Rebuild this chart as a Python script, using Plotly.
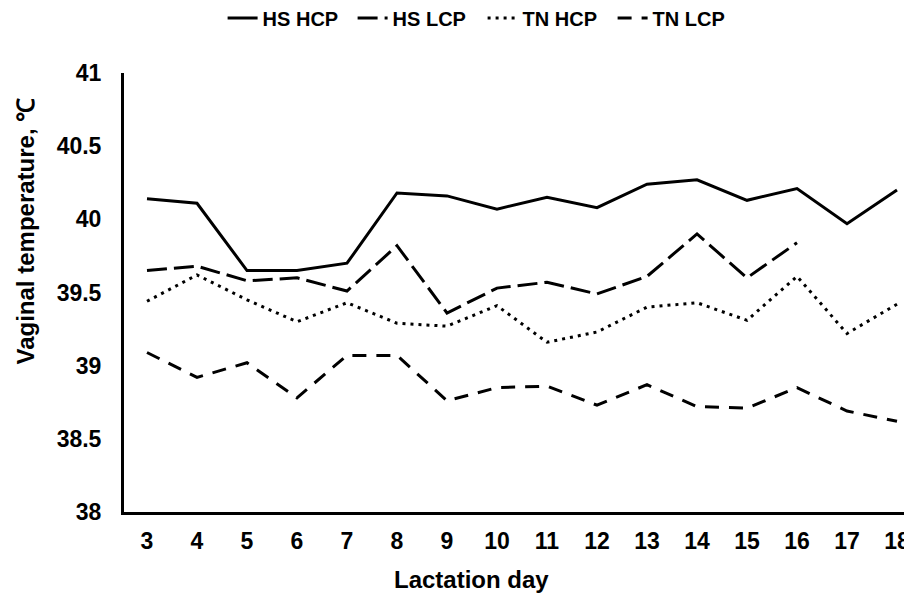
import plotly.graph_objects as go

days = list(range(3, 19))
hs_hcp = [40.14, 40.11, 39.65, 39.65, 39.70, 40.18, 40.16, 40.07, 40.15, 40.08, 40.24, 40.27, 40.13, 40.21, 39.97, 40.20]
hs_lcp = [39.65, 39.68, 39.58, 39.60, 39.51, 39.82, 39.36, 39.53, 39.57, 39.49, 39.61, 39.90, 39.60, 39.84, None, None]
tn_hcp = [39.44, 39.62, 39.45, 39.30, 39.43, 39.29, 39.27, 39.41, 39.16, 39.23, 39.40, 39.43, 39.31, 39.61, 39.22, 39.42]
tn_lcp = [39.09, 38.92, 39.02, 38.78, 39.07, 39.07, 38.76, 38.85, 38.86, 38.73, 38.87, 38.72, 38.71, 38.85, 38.69, 38.62]

series_names = ["HS HCP", "HS LCP", "TN HCP", "TN LCP"]
series_values = [hs_hcp, hs_lcp, tn_hcp, tn_lcp]
dashes = ["solid", "20px,7px", "3px,5px", "14px,10px"]

y_ticks = [38, 38.5, 39, 39.5, 40, 40.5, 41]
y_tick_labels = ["38", "38.5", "39", "39.5", "40", "40.5", "41"]

x_title = "Lactation day"
y_title = "Vaginal temperature, ℃"

fig = go.Figure()
for name, vals, d in zip(series_names, series_values, dashes):
    fig.add_trace(go.Scatter(
        x=days, y=vals, mode="lines", name=name,
        line=dict(color="black", width=3, dash=d),
        connectgaps=False,
    ))

font_family = "Liberation Sans, Arial, sans-serif"
fig.update_layout(
    width=904, height=589,
    margin=dict(l=116, r=0, t=64.5, b=85.3, autoexpand=False),
    plot_bgcolor="white", paper_bgcolor="white",
    font=dict(family=font_family, color="black", size=23),
    showlegend=True,
    legend=dict(
        orientation="h", x=0.525, xanchor="center", y=0.983, yanchor="middle",
        yref="container", xref="container",
        font=dict(size=20, family=font_family, weight="bold"),
        itemwidth=30, tracegroupgap=0,
        entrywidth=85, entrywidthmode="pixels",
    ),
    xaxis=dict(
        range=[2.54, 18.3], tickmode="array", tickvals=days,
        ticktext=[str(d) for d in days],
        showline=True, linecolor="black", linewidth=3,
        showgrid=False, zeroline=False, ticks="",
        tickfont=dict(size=23, weight="bold"),
        ticklabelstandoff=6, automargin=False,
    ),
    yaxis=dict(
        range=[38, 41], tickmode="array", tickvals=y_ticks, ticktext=y_tick_labels,
        showline=True, linecolor="black", linewidth=3,
        showgrid=False, zeroline=False, ticks="",
        tickfont=dict(size=23, weight="bold"),
        ticklabelstandoff=15, automargin=False,
    ),
    annotations=[
        dict(text=x_title, xref="paper", yref="paper", x=0.4416, y=-0.153,
             xanchor="center", yanchor="middle", showarrow=False,
             font=dict(size=24, weight="bold", family=font_family)),
        dict(text=y_title, xref="paper", yref="paper", x=-0.1256, y=0.639,
             xanchor="center", yanchor="middle", showarrow=False, textangle=-90,
             font=dict(size=24, weight="bold", family=font_family)),
    ],
)
fig.write_html("out.html")
